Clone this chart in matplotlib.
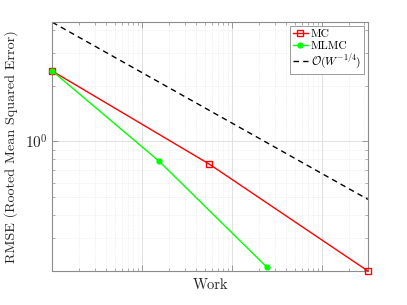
import matplotlib
matplotlib.use("Agg")
import matplotlib.pyplot as plt
from matplotlib.ticker import LogLocator, NullFormatter

plt.rcParams['font.family'] = 'serif'
plt.rcParams['font.serif'] = ['cmr10', 'DejaVu Serif']
plt.rcParams['mathtext.fontset'] = 'cm'
plt.rcParams['axes.formatter.use_mathtext'] = True

# Data
mc_work = [1e2, 5.6e3, 3.28e5]
mc_rmse = [2.40, 0.755, 0.20]
mlmc_work = [1e2, 1.56e3, 2.45e4]
mlmc_rmse = [2.40, 0.78, 0.21]
ref_work = [1e2, 3.28e5]
ref_rmse = [4.40, 0.487]

fig = plt.figure(figsize=(4.07, 3.05), dpi=100)
ax = fig.add_axes([0.1285, 0.1115, 0.7755, 0.8155])

ax.loglog(mc_work, mc_rmse, color=(1, 0, 0), lw=1.0, marker='s', ms=4,
          mfc='none', mec=(1, 0, 0), mew=1.0, label='MC', clip_on=False, zorder=3)
ax.loglog(mlmc_work, mlmc_rmse, color=(0, 1, 0), lw=1.0, marker='o', ms=3.5,
          mfc=(0, 1, 0), mec=(0, 1, 0), label='MLMC', clip_on=False, zorder=3)
ax.loglog(ref_work, ref_rmse, color='black', lw=1.0, ls=(0, (4, 3)),
          label=r'$\mathcal{O}(W^{-1/4})$')

ax.set_xlim(1e2, 3.28e5)
ax.set_ylim(0.2, 4.4)

ax.xaxis.set_major_locator(LogLocator(base=10, numticks=20))
ax.xaxis.set_minor_locator(LogLocator(base=10, subs=range(2, 10), numticks=50))
ax.xaxis.set_major_formatter(NullFormatter())
ax.xaxis.set_minor_formatter(NullFormatter())
ax.yaxis.set_minor_formatter(NullFormatter())

ax.grid(True, which='major', color='#dcdcdc', lw=0.6, ls='-')
ax.grid(True, which='minor', color='#e4e4e4', lw=0.5, ls=':')
ax.set_axisbelow(True)

for s in ax.spines.values():
    s.set_color('#8c8c8c')
    s.set_linewidth(0.8)
ax.tick_params(which='both', direction='in', top=True, right=True,
               colors='#8c8c8c', labelcolor='#262626')
ax.tick_params(which='major', length=4, width=0.6, labelsize=11)
ax.tick_params(which='minor', length=2, width=0.5)

ax.set_xlabel('Work', fontsize=10.5, color='#262626', labelpad=2)
ax.set_ylabel('RMSE (Rooted Mean Squared Error)', fontsize=10.2, color='#262626', labelpad=5)

leg = ax.legend(loc='upper right', fontsize=8.3, frameon=True, fancybox=False,
                edgecolor='#8c8c8c', framealpha=1, handlelength=1.3,
                handletextpad=0.25, borderpad=0.25, labelspacing=0.15,
                borderaxespad=0.35)
leg.get_frame().set_linewidth(0.6)

fig.savefig('out.png', dpi=100)
